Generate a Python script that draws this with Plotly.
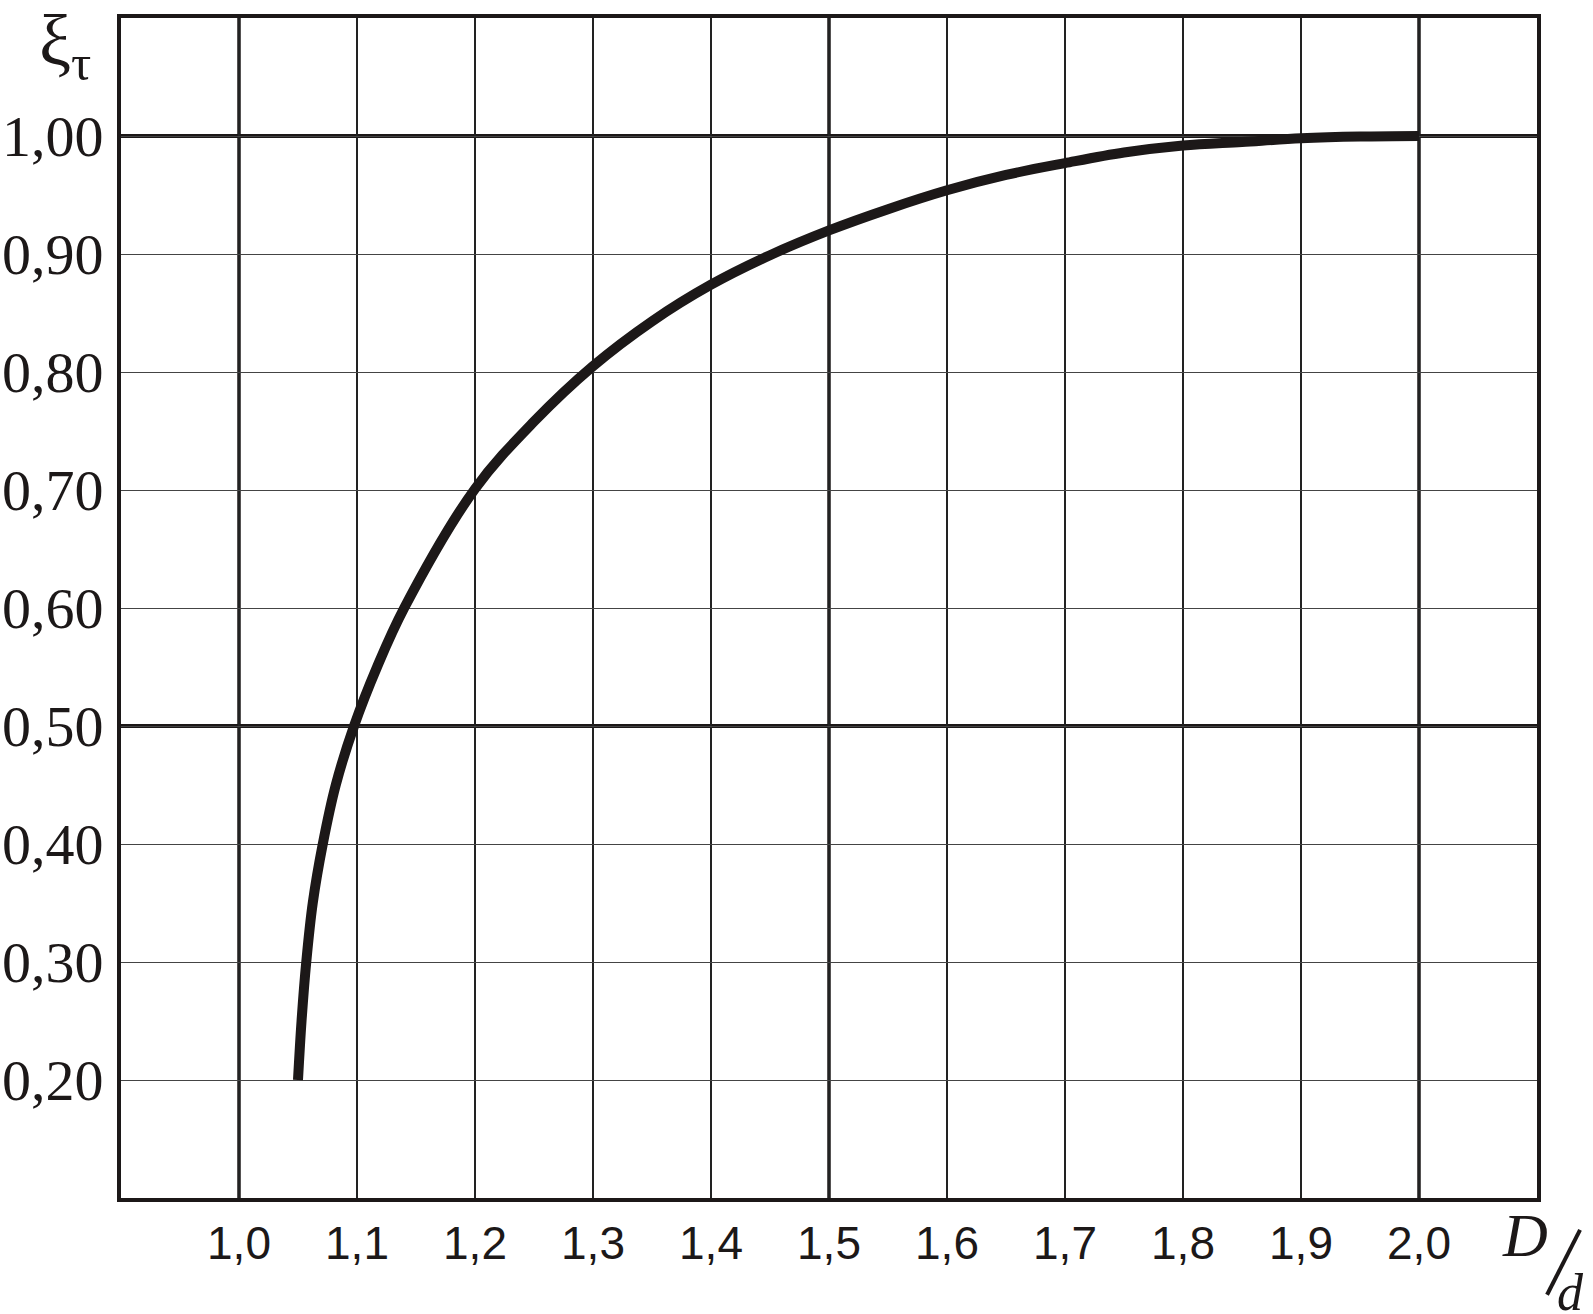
import plotly.graph_objects as go

# Curve data (D/d -> xi_tau)
d_ratio = [1.05, 1.053, 1.057, 1.0625, 1.071, 1.082, 1.0975, 1.117, 1.140, 1.20,
           1.25, 1.30, 1.35, 1.40, 1.45, 1.50, 1.55, 1.60, 1.65, 1.70, 1.75, 1.80,
           1.85, 1.90, 1.95, 2.00]
xi_tau = [0.20, 0.25, 0.30, 0.35, 0.40, 0.45, 0.50, 0.55, 0.60, 0.701,
          0.758, 0.805, 0.843, 0.874, 0.899, 0.920, 0.938, 0.954, 0.967, 0.977, 0.986, 0.992,
          0.995, 0.998, 0.9995, 1.000]

x_ticks = [1.0, 1.1, 1.2, 1.3, 1.4, 1.5, 1.6, 1.7, 1.8, 1.9, 2.0]
x_tick_labels = ["1,0", "1,1", "1,2", "1,3", "1,4", "1,5", "1,6", "1,7", "1,8", "1,9", "2,0"]
y_ticks = [0.2, 0.3, 0.4, 0.5, 0.6, 0.7, 0.8, 0.9, 1.0]
y_tick_labels = ["0,20", "0,30", "0,40", "0,50", "0,60", "0,70", "0,80", "0,90", "1,00"]
x_major = [1.0, 1.5, 2.0]
y_major = [0.5, 1.0]

INK = "#1c1818"

fig = go.Figure()
fig.add_trace(go.Scatter(x=d_ratio, y=xi_tau, mode="lines",
                         line=dict(color=INK, width=10, shape="spline", smoothing=1.0),
                         showlegend=False, hoverinfo="skip"))

shapes = []
for xv in x_major:
    shapes.append(dict(type="line", xref="x", yref="paper", x0=xv, x1=xv, y0=0, y1=1,
                       line=dict(color=INK, width=3.5), layer="below"))
for yv in y_major:
    shapes.append(dict(type="line", xref="paper", yref="y", x0=0, x1=1, y0=yv, y1=yv,
                       line=dict(color=INK, width=4), layer="below"))
# slash of D/d axis symbol
shapes.append(dict(type="line", xref="paper", yref="paper",
                   x0=1.0304, y0=-0.027, x1=1.0071, y1=-0.082,
                   line=dict(color=INK, width=4)))

fig.update_layout(
    width=1593, height=1314,
    margin=dict(l=121, r=56, t=18, b=116),
    paper_bgcolor="white", plot_bgcolor="white",
    shapes=shapes,
    xaxis=dict(range=[0.9, 2.1], tickmode="array", tickvals=x_ticks, ticktext=x_tick_labels,
               showgrid=True, gridcolor="#222", gridwidth=2, zeroline=False,
               showline=True, linecolor=INK, linewidth=4, mirror=True,
               ticks="", ticklabelstandoff=2, automargin=False,
               tickfont=dict(family="Liberation Sans", size=46, color=INK)),
    yaxis=dict(range=[0.1, 1.1], tickmode="array", tickvals=y_ticks, ticktext=y_tick_labels,
               showgrid=True, gridcolor="#444", gridwidth=1.3, zeroline=False,
               showline=True, linecolor=INK, linewidth=4, mirror=True,
               ticks="", ticklabelstandoff=2, automargin=False,
               tickfont=dict(family="Liberation Serif", size=58, color=INK)),
    annotations=[
        dict(text="ξ<sub>τ</sub>", xref="paper", yref="paper", x=-0.059, y=1.016,
             xanchor="left", yanchor="top", showarrow=False,
             font=dict(family="Liberation Serif", size=72, color=INK)),
        dict(text="<i>D</i>", xref="paper", yref="paper", x=0.9915, y=-0.031,
             xanchor="center", yanchor="middle", showarrow=False,
             font=dict(family="Liberation Serif", size=62, color=INK)),
        dict(text="<i>d</i>", xref="paper", yref="paper", x=1.024, y=-0.080,
             xanchor="center", yanchor="middle", showarrow=False,
             font=dict(family="Liberation Serif", size=52, color=INK)),
    ],
)

fig.write_html("out.html", config={"displayModeBar": False},
               post_script="document.body.style.margin='0';document.body.style.overflow='hidden';")
